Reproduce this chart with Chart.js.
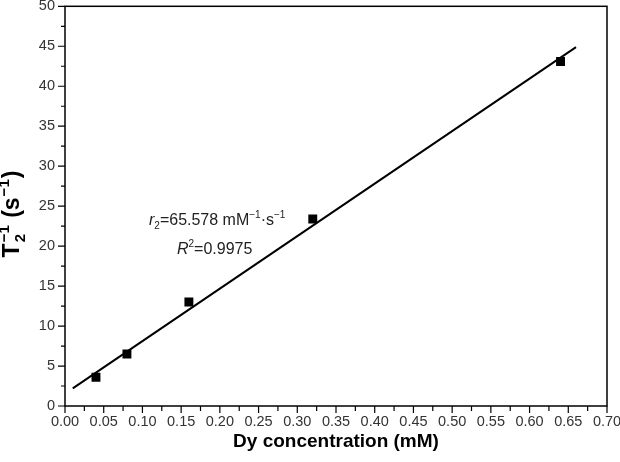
<!DOCTYPE html>
<html>
<head>
<meta charset="utf-8">
<script src="https://cdn.jsdelivr.net/npm/chart.js@4"></script>
<style>
  html, body { margin: 0; padding: 0; background: #fff; }
  #wrap { width: 620px; height: 462px; }
</style>
</head>
<body>
<div id="wrap"><canvas id="c" width="620" height="462"></canvas></div>
<script>
// measured points
const concentration = [0.04, 0.08, 0.16, 0.32, 0.64];
const relaxRate = [3.6, 6.5, 13.0, 23.4, 43.1];
// fitted line ends
const fitX = [0.01, 0.66];
const fitY = [2.2, 44.9];
const xTicks = [0, 0.7, 0.05];
const yTicks = [0, 50, 5];

const FONT = '"Liberation Sans", Arial, sans-serif';

// ticks, frame and rich-text labels
const decor = {
  id: 'decor',
  afterDraw(chart) {
    const { ctx, chartArea: a, scales: { x, y } } = chart;
    ctx.save();
    ctx.strokeStyle = '#000';
    ctx.lineWidth = 1.5;
    ctx.strokeRect(a.left, a.top, a.right - a.left, a.bottom - a.top);

    ctx.lineWidth = 1.2;
    ctx.beginPath();
    for (let i = 0; i <= 28; i++) {
      const px = x.getPixelForValue(i * 0.025);
      const len = i % 2 === 0 ? 7 : 5;
      ctx.moveTo(px, a.bottom);
      ctx.lineTo(px, a.bottom + len);
    }
    for (let i = 0; i <= 20; i++) {
      const py = y.getPixelForValue(i * 2.5);
      const len = i % 2 === 0 ? 7 : 4;
      ctx.moveTo(a.left, py);
      ctx.lineTo(a.left - len, py);
    }
    ctx.stroke();

    // y axis title  T2^-1 (s^-1)
    ctx.fillStyle = '#000';
    ctx.textBaseline = 'alphabetic';
    ctx.textAlign = 'left';
    const big = 'bold 23px ' + FONT, small = 'bold 15px ' + FONT;
    const parts = [
      { t: 'T', f: big },
      { stack: true },
      { t: ' (s', f: big },
      { t: '\u22121', f: small, dy: -10 },
      { t: ')', f: big }
    ];
    ctx.font = small;
    const supW = ctx.measureText('\u22121').width;
    let w = 0;
    parts.forEach(p => {
      if (p.stack) { p.w = supW + 2; } else { ctx.font = p.f; p.w = ctx.measureText(p.t).width + (p.dy ? 2 : 0); }
      w += p.w;
    });
    ctx.translate(19, 214);
    ctx.rotate(-Math.PI / 2);
    let cx = -w / 2;
    parts.forEach(p => {
      if (p.stack) {
        ctx.font = small;
        ctx.fillText('\u22121', cx + 1, -10);
        ctx.fillText('2', cx + 1, 6);
      } else {
        ctx.font = p.f;
        ctx.fillText(p.t, cx + (p.dy ? 1 : 0), p.dy || 0);
      }
      cx += p.w;
    });
    ctx.restore();

    // annotation
    ctx.save();
    ctx.fillStyle = '#222';
    ctx.textBaseline = 'alphabetic';
    const run = (items, x0, y0) => {
      let px = x0;
      items.forEach(([t, f, dy]) => {
        ctx.font = f;
        ctx.fillText(t, px, y0 + (dy || 0));
        px += ctx.measureText(t).width;
      });
    };
    const n = '16px ' + FONT, it = 'italic 16px ' + FONT, s = '10px ' + FONT;
    run([['r', it], ['2', s, 4], ['=65.578 mM', n], ['\u22121', s, -7], ['\u00b7s', n], ['\u22121', s, -7]], 149, 225);
    run([['R', it], ['2', s, -7], ['=0.9975', n]], 177, 254);
    ctx.restore();
  }
};

const noEdgePad = s => { s.paddingTop = 0; s.paddingBottom = 0; s.paddingLeft = 0; s.paddingRight = 0; };

new Chart(document.getElementById('c'), {
  type: 'scatter',
  data: {
    datasets: [
      {
        data: concentration.map((v, i) => ({ x: v, y: relaxRate[i] })),
        pointStyle: 'rect',
        pointRadius: 6.3,
        backgroundColor: '#000',
        borderColor: '#000',
        borderWidth: 0
      },
      {
        data: fitX.map((v, i) => ({ x: v, y: fitY[i] })),
        showLine: true,
        pointRadius: 0,
        borderColor: '#000',
        borderWidth: 2
      }
    ]
  },
  options: {
    responsive: false,
    animation: false,
    layout: { padding: { left: 0, top: 5, right: 13, bottom: 0 } },
    plugins: { legend: { display: false }, tooltip: { enabled: false } },
    scales: {
      x: {
        type: 'linear',
        min: xTicks[0], max: xTicks[1],
        afterFit: s => { s.height = 56; noEdgePad(s); },
        grid: { display: false, drawTicks: false },
        border: { display: false },
        ticks: {
          stepSize: xTicks[2],
          padding: 7,
          color: '#333',
          font: { family: FONT, size: 14.5 },
          maxRotation: 0,
          autoSkip: false,
          callback: v => v.toFixed(2)
        },
        title: {
          display: true,
          text: 'Dy concentration (mM)',
          color: '#000',
          font: { family: FONT, size: 19, weight: 'bold' },
          padding: { top: 0, bottom: 9 }
        }
      },
      y: {
        type: 'linear',
        min: yTicks[0], max: yTicks[1],
        afterFit: s => { s.width = 65; noEdgePad(s); },
        grid: { display: false, drawTicks: false },
        border: { display: false },
        ticks: {
          stepSize: yTicks[2],
          padding: 10,
          color: '#333',
          font: { family: FONT, size: 14.5 },
          autoSkip: false
        }
      }
    }
  },
  plugins: [decor]
});
</script>
</body>
</html>
